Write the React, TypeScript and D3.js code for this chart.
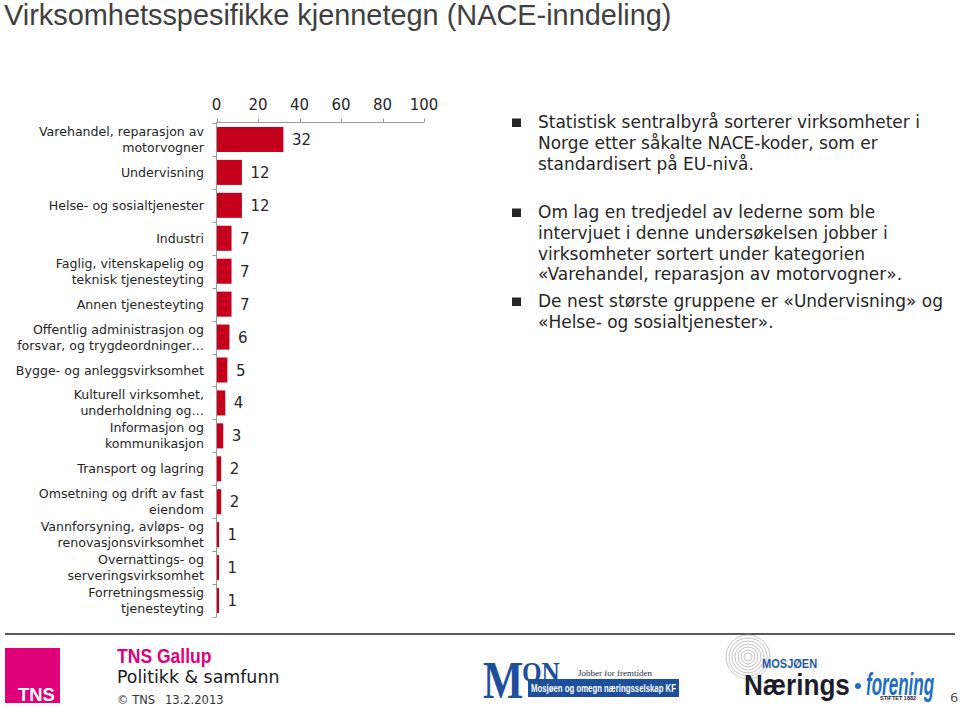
import React from "react";
import * as d3 from "d3";

const title = "Virksomhetsspesifikke kjennetegn (NACE-inndeling)";

const categories: string[] = [
  "Varehandel, reparasjon av\nmotorvogner",
  "Undervisning",
  "Helse- og sosialtjenester",
  "Industri",
  "Faglig, vitenskapelig og\nteknisk tjenesteyting",
  "Annen tjenesteyting",
  "Offentlig administrasjon og\nforsvar, og trygdeordninger…",
  "Bygge- og anleggsvirksomhet",
  "Kulturell virksomhet,\nunderholdning og…",
  "Informasjon og\nkommunikasjon",
  "Transport og lagring",
  "Omsetning og drift av fast\neiendom",
  "Vannforsyning, avløps- og\nrenovasjonsvirksomhet",
  "Overnattings- og\nserveringsvirksomhet",
  "Forretningsmessig\ntjenesteyting",
];

const values: number[] = [32, 12, 12, 7, 7, 7, 6, 5, 4, 3, 2, 2, 1, 1, 1];

const xTicks: number[] = [0, 20, 40, 60, 80, 100];

const bullets: string[][] = [
  [
    "Statistisk sentralbyrå sorterer virksomheter i",
    "Norge etter såkalte NACE-koder, som er",
    "standardisert på EU-nivå.",
  ],
  [
    "Om lag en tredjedel av lederne som ble",
    "intervjuet i denne undersøkelsen jobber i",
    "virksomheter sortert under kategorien",
    "«Varehandel, reparasjon av motorvogner».",
  ],
  [
    "De nest største gruppene er «Undervisning» og",
    "«Helse- og sosialtjenester».",
  ],
];

const bulletTops: number[] = [128, 218, 307];

const BAR = "#c4001c";
const AXIS = "#9a9a9a";
const TEXT = "#262626";
const SANS = "'DejaVu Sans', Verdana, sans-serif";
const ARIAL = "'Liberation Sans', Arial, sans-serif";
const SERIF = "'Liberation Serif', 'Times New Roman', serif";

type STProps = {
  x: number;
  y: number;
  sx?: number;
  sy?: number;
  children: React.ReactNode;
  [k: string]: any;
};

function ScaledText({ x, y, sx = 1, sy = 1, children, ...rest }: STProps) {
  return (
    <text transform={`translate(${x},${y}) scale(${sx},${sy})`} {...rest}>
      {children}
    </text>
  );
}

export default function App() {
  const x = d3.scaleLinear().domain([0, 100]).range([216.5, 424]);
  const y = d3
    .scaleBand<string>()
    .domain(categories)
    .range([123, 617])
    .paddingInner(0.24)
    .paddingOuter(0.12);
  const step = y.step();
  const axisY = 122.5;
  const boundaries = d3.range(categories.length + 1).map((i) => 123 + i * step);

  return (
    <svg
      width={960}
      height={708}
      style={{ position: "absolute", left: 0, top: 0, background: "#fff" }}
    >
      <rect x={0} y={0} width={960} height={708} fill="#fff" />
      {/* Title */}
      <text x={4} y={25} fontFamily={ARIAL} fontSize={28.9} fill="#404040">
        {title}
      </text>

      {/* Top axis */}
      <g>
        <line x1={x(0)} x2={x(100)} y1={axisY} y2={axisY} stroke={AXIS} strokeWidth={1} />
        {xTicks.map((t) => (
          <g key={t}>
            <line
              x1={Math.round(x(t)) + 0.5}
              x2={Math.round(x(t)) + 0.5}
              y1={axisY - 4}
              y2={axisY}
              stroke={AXIS}
            />
            <text
              x={x(t)}
              y={110}
              textAnchor="middle"
              fontFamily={SANS}
              fontSize={15}
              fill={TEXT}
            >
              {t}
            </text>
          </g>
        ))}
      </g>

      {/* Vertical axis */}
      <line x1={x(0)} x2={x(0)} y1={axisY} y2={617} stroke={AXIS} strokeWidth={1} />
      {boundaries.map((b, i) => (
        <line
          key={i}
          x1={x(0) - 4}
          x2={x(0)}
          y1={Math.round(b) + 0.5}
          y2={Math.round(b) + 0.5}
          stroke={AXIS}
        />
      ))}

      {/* Bars */}
      {categories.map((c, i) => (
        <rect
          key={c}
          x={x(0) + 0.5}
          y={y(c)!}
          width={Math.max(1.5, x(values[i]) - x(0))}
          height={y.bandwidth()}
          fill={BAR}
        />
      ))}

      {/* Value labels */}
      {categories.map((c, i) => (
        <text
          key={c}
          x={x(values[i]) + 9}
          y={y(c)! + y.bandwidth() / 2 + 5.5}
          fontFamily={SANS}
          fontSize={15}
          fill={TEXT}
        >
          {values[i]}
        </text>
      ))}

      {/* Category labels */}
      {categories.map((c) => {
        const lines = c.split("\n");
        const cy = y(c)! + y.bandwidth() / 2;
        const lh = 16;
        const start = cy - ((lines.length - 1) * lh) / 2;
        return (
          <text key={c} textAnchor="end" fontFamily={SANS} fontSize={12.6} fill={TEXT}>
            {lines.map((l, j) => (
              <tspan key={j} x={204} y={start + j * lh + 4.5}>
                {l}
              </tspan>
            ))}
          </text>
        );
      })}

      {/* Bullet text */}
      {bullets.map((lines, i) => (
        <g key={i}>
          <rect x={512} y={bulletTops[i] - 9.5} width={9} height={8.5} fill="#262626" />
          <text fontFamily={SANS} fontSize={17} fill={TEXT}>
            {lines.map((l, j) => (
              <tspan key={j} x={538} y={bulletTops[i] + j * 20.8}>
                {l}
              </tspan>
            ))}
          </text>
        </g>
      ))}

      {/* Footer line */}
      <line x1={5} x2={955} y1={634} y2={634} stroke="#5a5a5a" strokeWidth={2} />

      {/* TNS logo */}
      <rect x={5} y={648} width={55} height={55} fill="#e0007a" />
      <ScaledText x={18} y={701} sx={0.97} fontFamily={ARIAL} fontWeight="bold" fontSize={19} fill="#fff">
        TNS
      </ScaledText>
      <ScaledText x={117} y={663} sx={0.9} fontFamily={ARIAL} fontWeight="bold" fontSize={19.5} fill="#e0007a">
        TNS Gallup
      </ScaledText>
      <text x={117} y={683} fontFamily={SANS} fontSize={17.4} fill="#1a1a1a">
        Politikk &amp; samfunn
      </text>
      <text x={117} y={704} fontFamily={SANS} fontSize={11.5} fill="#333">
        © TNS
      </text>
      <text x={165} y={704} fontFamily={SANS} fontSize={11.5} fill="#333">
        13.2.2013
      </text>

      {/* MON logo */}
      <ScaledText x={483} y={698} sx={0.82} fontFamily={SERIF} fontWeight="bold" fontSize={52} fill="#1d4f9c">
        M
      </ScaledText>
      <ScaledText x={522} y={682} sx={0.87} fontFamily={SERIF} fontWeight="bold" fontSize={29} fill="#1d4f9c">
        ON
      </ScaledText>
      <text x={578} y={676} fontFamily={SERIF} fontSize={9} fill="#1a2a50">
        Jobber for fremtiden
      </text>
      <rect x={528} y={679} width={151} height={18} fill="#1d4f9c" />
      <ScaledText x={531} y={692} sx={0.78} fontFamily={ARIAL} fontWeight="bold" fontSize={10} fill="#fff">
        Mosjøen og omegn næringsselskap KF
      </ScaledText>

      {/* Næringsforening logo */}
      {[4, 7, 10, 13, 16, 19, 22].map((r) => (
        <circle key={r} cx={748} cy={657} r={r} fill="none" stroke="#b5b5b5" strokeWidth={0.8} />
      ))}
      <ScaledText x={762} y={668} sx={0.85} fontFamily={ARIAL} fontWeight="bold" fontSize={13} fill="#1d5aa8">
        MOSJØEN
      </ScaledText>
      <ScaledText x={744} y={695} sx={0.87} fontFamily={ARIAL} fontWeight="bold" fontSize={30} fill="#1c1c2a">
        Nærings
      </ScaledText>
      <circle cx={858} cy={686} r={3} fill="#1d6fc0" />
      <ScaledText
        x={866}
        y={695}
        sx={0.55}
        fontFamily={ARIAL}
        fontStyle="italic"
        fontWeight="bold"
        fontSize={31}
        fill="#1d6fc0"
      >
        forening
      </ScaledText>
      <text x={880} y={700} fontFamily={ARIAL} fontWeight="bold" fontSize={5.5} fill="#1c1c2a">
        STIFTET 1882
      </text>

      <text x={950} y={702} fontFamily={SANS} fontSize={13} fill="#555">
        6
      </text>
    </svg>
  );
}
